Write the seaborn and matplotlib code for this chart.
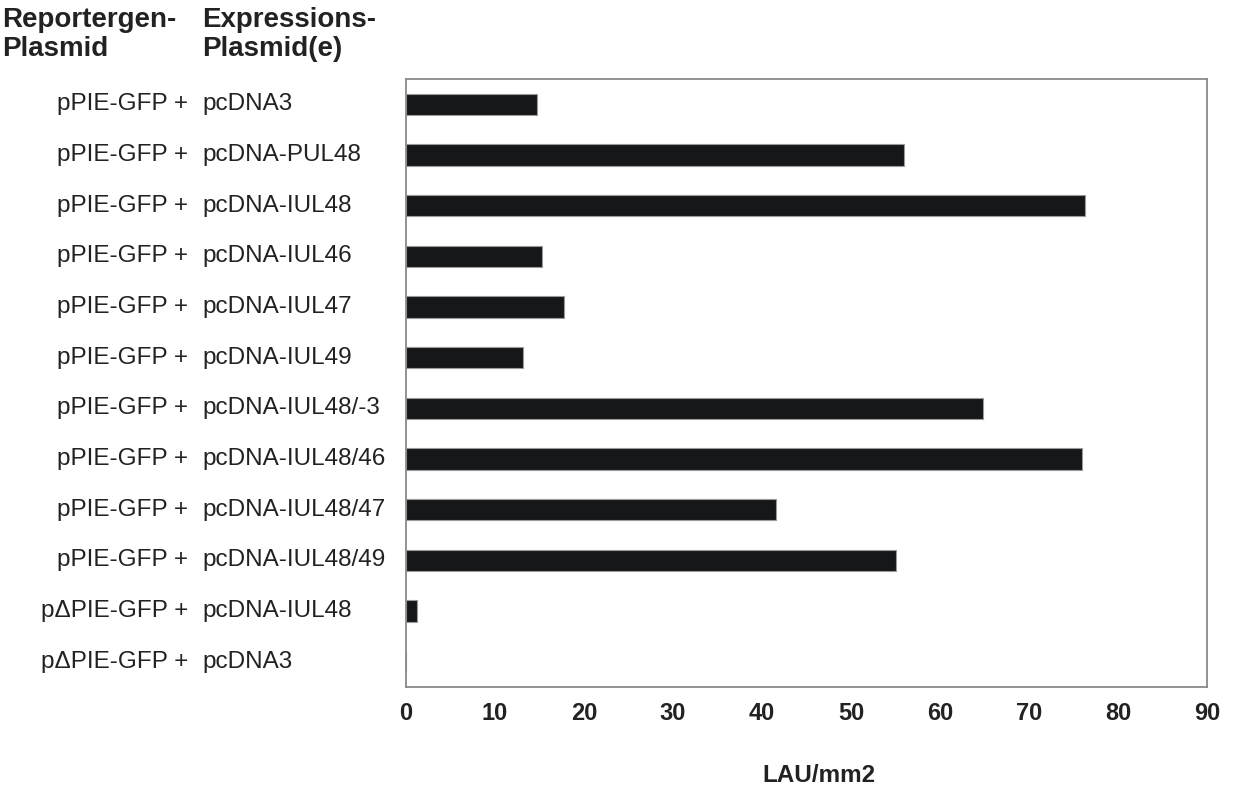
import numpy as np
import pandas as pd
import matplotlib
matplotlib.use("Agg")
import matplotlib.pyplot as plt
import matplotlib.transforms as mtransforms
import seaborn as sns

reporter = ["pPIE-GFP +"] * 10 + ["p\u0394PIE-GFP +"] * 2
expression = ["pcDNA3", "pcDNA-PUL48", "pcDNA-IUL48", "pcDNA-IUL46", "pcDNA-IUL47",
              "pcDNA-IUL49", "pcDNA-IUL48/-3", "pcDNA-IUL48/46", "pcDNA-IUL48/47",
              "pcDNA-IUL48/49", "pcDNA-IUL48", "pcDNA3"]
lau = [14.7, 55.9, 76.3, 15.3, 17.8, 13.2, 64.8, 75.9, 41.6, 55.1, 1.2, 0.0]
x_ticks = [0, 10, 20, 30, 40, 50, 60, 70, 80, 90]

df = pd.DataFrame({"row": [str(i) for i in range(len(lau))], "LAU": lau})

sns.set_style("white")
plt.rcParams["font.family"] = ["Liberation Sans", "DejaVu Sans"]

fig = plt.figure(figsize=(12.34, 7.85), dpi=100)
ax = fig.add_axes([406 / 1234, 1 - 687 / 785, (1207 - 406) / 1234, (687 - 79) / 785])

sns.barplot(data=df, x="LAU", y="row", orient="h", color="#161719",
            edgecolor="#9a9a9a", linewidth=0.8, width=0.42, ax=ax)

ax.set_xlim(0, 90)
ax.set_ylim(len(lau) - 0.5, -0.5)
ax.set_xticks(x_ticks)
ax.set_xticklabels([str(t) for t in x_ticks], fontsize=17, fontweight="bold", color="#222222")
ax.set_yticks(np.arange(-0.5, len(lau), 1.0))
ax.set_yticklabels([])
ax.tick_params(axis="x", direction="out", length=4, width=0.8, color="#999999", pad=7)
ax.tick_params(axis="y", direction="out", length=4, width=0.8, color="#999999")
ax.set_xlabel("")
ax.set_ylabel("")
for s in ax.spines.values():
    s.set_visible(True)
    s.set_color("#8a8a8a")
    s.set_linewidth(1.3)

# two-column row labels
trans = mtransforms.blended_transform_factory(fig.transFigure, ax.transData)
for i, (r, e) in enumerate(zip(reporter, expression)):
    ax.text(188 / 1234, i, r, transform=trans, ha="right", va="center",
            fontsize=17.5, color="#222222", clip_on=False)
    ax.text(202 / 1234, i, e, transform=trans, ha="left", va="center",
            fontsize=17.5, color="#222222", clip_on=False)

fig.text(2 / 1234, 1 - 7 / 785, "Reportergen-\nPlasmid", ha="left", va="top",
         fontsize=20, fontweight="bold", color="#222222", linespacing=1.15)
fig.text(202 / 1234, 1 - 7 / 785, "Expressions-\nPlasmid(e)", ha="left", va="top",
         fontsize=20, fontweight="bold", color="#222222", linespacing=1.15)
fig.text(819 / 1234, 1 - 782 / 785, "LAU/mm2", ha="center", va="baseline",
         fontsize=17.5, fontweight="bold", color="#222222")

fig.savefig("out.png", dpi=100, facecolor="white")
